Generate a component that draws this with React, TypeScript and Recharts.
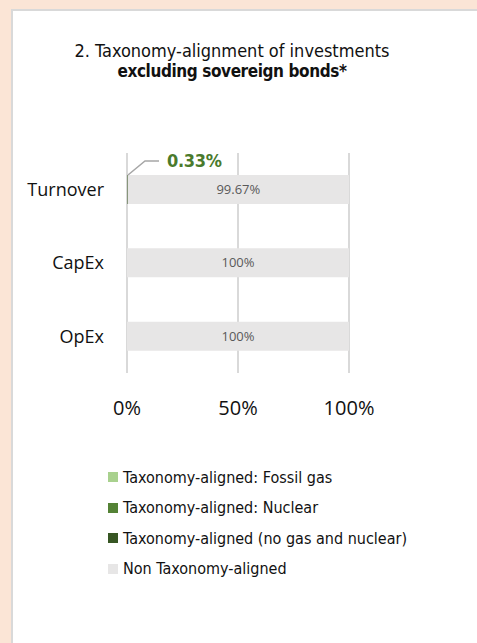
import React from 'react';
import { BarChart, Bar, XAxis, YAxis, CartesianGrid, LabelList } from 'recharts';

const categories = ['Turnover', 'CapEx', 'OpEx'];
const fossilGas = [0, 0, 0];
const nuclear = [0, 0, 0];
const alignedOther = [0.33, 0, 0];
const nonAligned = [99.67, 100, 100];
const xTicks = [0, 50, 100];

const seriesNames = [
  'Taxonomy-aligned: Fossil gas',
  'Taxonomy-aligned: Nuclear',
  'Taxonomy-aligned (no gas and nuclear)',
  'Non Taxonomy-aligned',
];
const seriesColors = ['#a9d18e', '#548235', '#375623', '#e7e6e6'];

const data = categories.map((name, i) => ({
  name,
  fossil: fossilGas[i],
  nuclear: nuclear[i],
  aligned: alignedOther[i],
  non: nonAligned[i],
}));

const narrow = '"DejaVu Sans Condensed", "Liberation Sans Narrow", "Liberation Sans", sans-serif';
const calibriLike = '"Open Sans", "Liberation Sans", sans-serif';

// callout for the small aligned share, drawn above the bar with a leader line
const AlignedCallout = (props: any) => {
  const { x, y, value } = props;
  if (!value) return null;
  const x0 = Number(x);
  const y0 = Number(y);
  return (
    <g>
      <polyline
        points={`${x0 + 1},${y0} ${x0 + 18},${y0 - 14} ${x0 + 32},${y0 - 14}`}
        fill="none"
        stroke="#a6a6a6"
        strokeWidth={1.5}
      />
      <text
        x={x0 + 40}
        y={y0 - 14}
        dy="0.35em"
        fill="#4a7a2c"
        fontFamily={narrow}
        fontWeight="bold"
        fontSize={18}
        letterSpacing={-0.3}
      >
        {`${value}%`}
      </text>
    </g>
  );
};

export default function App() {
  return (
    <div style={{ position: 'absolute', left: 0, top: 0, width: 477, height: 643, background: '#fbe5d6', overflow: 'hidden' }}>
      <div
        style={{
          position: 'absolute',
          left: 11,
          top: 9,
          right: 0,
          bottom: 0,
          background: '#fff',
          borderLeft: '2px solid #d9d9d9',
          borderTop: '2px solid #d9d9d9',
        }}
      />
      <div
        style={{
          position: 'absolute',
          left: 0,
          top: 41,
          width: 464,
          textAlign: 'center',
          fontFamily: narrow,
          fontSize: 18,
          lineHeight: '20px',
          color: '#111',
        }}
      >
        <div>2. Taxonomy-alignment of investments</div>
        <div style={{ fontWeight: 'bold', fontSize: 17, letterSpacing: -0.4 }}>excluding sovereign bonds*</div>
      </div>

      <div style={{ position: 'absolute', left: 0, top: 0 }}>
        <BarChart
          width={477}
          height={440}
          data={data}
          layout="vertical"
          margin={{ top: 153, right: 128, bottom: 7, left: 0 }}
          barSize={29}
        >
          <CartesianGrid horizontal={false} stroke="#d9d9d9" strokeWidth={2} />
          <XAxis
            type="number"
            domain={[0, 100]}
            ticks={xTicks}
            tickFormatter={(v: number) => `${v}%`}
            axisLine={false}
            tickLine={false}
            height={60}
            tickMargin={22}
            tick={{ fill: '#111', fontSize: 20, fontFamily: calibriLike }}
          />
          <YAxis
            type="category"
            dataKey="name"
            width={127}
            axisLine={false}
            tickLine={false}
            tickMargin={17}
            tick={{ fill: '#111', fontSize: 18, fontFamily: calibriLike }}
          />
          <Bar dataKey="fossil" stackId="a" fill={seriesColors[0]} isAnimationActive={false} />
          <Bar dataKey="nuclear" stackId="a" fill={seriesColors[1]} isAnimationActive={false} />
          <Bar dataKey="aligned" stackId="a" fill={seriesColors[2]} isAnimationActive={false}>
            <LabelList dataKey="aligned" content={AlignedCallout} />
          </Bar>
          <Bar dataKey="non" stackId="a" fill={seriesColors[3]} isAnimationActive={false}>
            <LabelList
              dataKey="non"
              position="center"
              formatter={(v: any) => `${v}%`}
              fill="#595959"
              fontSize={13}
              fontFamily={calibriLike}
            />
          </Bar>
        </BarChart>
      </div>

      <div style={{ position: 'absolute', left: 108, top: 462, fontFamily: narrow, fontSize: 16, color: '#111' }}>
        {seriesNames.map((name, i) => (
          <div key={name} style={{ display: 'flex', alignItems: 'center', height: 30.5 }}>
            <span style={{ display: 'inline-block', width: 10, height: 10, background: seriesColors[i], marginRight: 5 }} />
            <span>{name}</span>
          </div>
        ))}
      </div>
    </div>
  );
}
